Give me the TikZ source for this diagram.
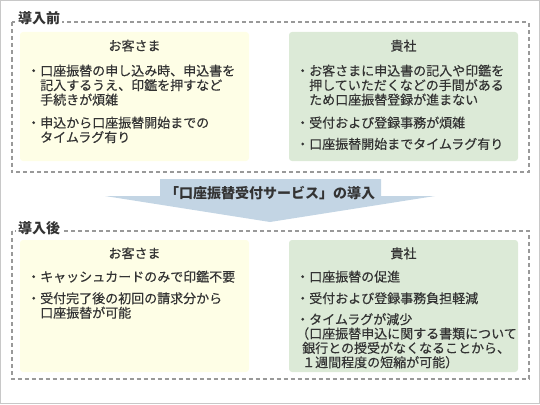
\documentclass[tikz,border=0pt]{standalone}
\usepackage{fontspec}
\newfontfamily\jp[UprightFeatures={FakeBold=0.35}]{Noto Sans CJK JP}
\definecolor{txt}{HTML}{333333}
\definecolor{outer}{HTML}{C8C8C8}
\definecolor{dashc}{HTML}{999999}
\definecolor{yel}{HTML}{FEFEE6}
\definecolor{grn}{HTML}{DCEAD7}
\definecolor{arr}{HTML}{C3D5E4}
\tikzset{
  ln/.style={font=\jp\fontsize{13}{15}\selectfont, text=txt, inner sep=0pt, anchor=base west},
  hd/.style={font=\jp\fontsize{13}{15}\selectfont, text=txt, inner sep=0pt, anchor=base},
  sect/.style={font=\jp\bfseries\fontsize{14}{16}\selectfont, text=txt, fill=white, inner xsep=2pt, inner ysep=1pt, anchor=base west},
  dbox/.style={draw=dashc, line width=2pt, dash pattern=on 4pt off 3pt},
  ybox/.style={fill=yel, rounded corners=3pt},
  gbox/.style={fill=grn, rounded corners=3pt},
}
\begin{document}
\begin{tikzpicture}[x=1pt,y=-1pt]
\useasboundingbox (0,0) rectangle (540,404);
\draw[outer, line width=1pt] (0.5,0.5) rectangle (539.5,403.5);

% ---- before
\draw[dbox] (11.5,22.5) rectangle (528.5,172);
\node[sect] (sb) at (16,24) {導入前};
\fill[ybox] (20,32) rectangle (249,161);
\fill[gbox] (289,32) rectangle (518,161);

\node[hd] (y1h) at (134.5,50.6) {お客さま};
\node[ln] (y1a) at (27,75.6) {・口座振替の申し込み時、申込書を};
\node[ln] (y1b) at (40,90.1) {記入するうえ、印鑑を押すなど};
\node[ln] (y1c) at (40,104.6) {手続きが煩雑};
\node[ln] (y1d) at (27,127.6) {・申込から口座振替開始までの};
\node[ln] (y1e) at (40,142.1) {タイムラグ有り};

\node[hd] (g1h) at (403.5,50.6) {貴社};
\node[ln] (g1a) at (296,75.6) {・お客さまに申込書の記入や印鑑を};
\node[ln] (g1b) at (309,90.1) {押していただくなどの手間がある};
\node[ln] (g1c) at (309,104.6) {ため口座振替登録が進まない};
\node[ln] (g1d) at (296,127.6) {・受付および登録事務が煩雑};
\node[ln] (g1e) at (296,148.9) {・口座振替開始までタイムラグ有り};

% ---- arrow
\fill[arr] (160,179) -- (381,179) -- (381,196) -- (435,196) -- (270,222) -- (105,196) -- (160,196) -- cycle;
\node[font=\jp\bfseries\fontsize{14}{16}\selectfont, text=txt, inner sep=0pt, anchor=base] (ttl) at (270,198) {「口座振替受付サービス」の導入};

% ---- after
\draw[dbox] (11.5,231) rectangle (528.5,379);
\node[sect] (sa) at (16,233) {導入後};
\fill[ybox] (20,240) rectangle (249,372);
\fill[gbox] (289,240) rectangle (518,372);

\node[hd] (y2h) at (134.5,258.2) {お客さま};
\node[ln] (y2a) at (27,281.6) {・キャッシュカードのみで印鑑不要};
\node[ln] (y2b) at (27,303.2) {・受付完了後の初回の請求分から};
\node[ln] (y2c) at (40,317.7) {口座振替が可能};

\node[hd] (g2h) at (403.5,258.2) {貴社};
\node[ln] (g2a) at (296,281.6) {・口座振替の促進};
\node[ln] (g2b) at (296,303.2) {・受付および登録事務負担軽減};
\node[ln] (g2c) at (296,324.2) {・タイムラグが減少};
\node[ln] (g2d) at (296,338.5) {（口座振替申込に関する書類について};
\node[ln] (g2e) at (302,352.9) {銀行との授受がなくなることから、};
\node[ln] (g2f) at (302,367.2) {１週間程度の短縮が可能）};
\end{tikzpicture}
\end{document}
